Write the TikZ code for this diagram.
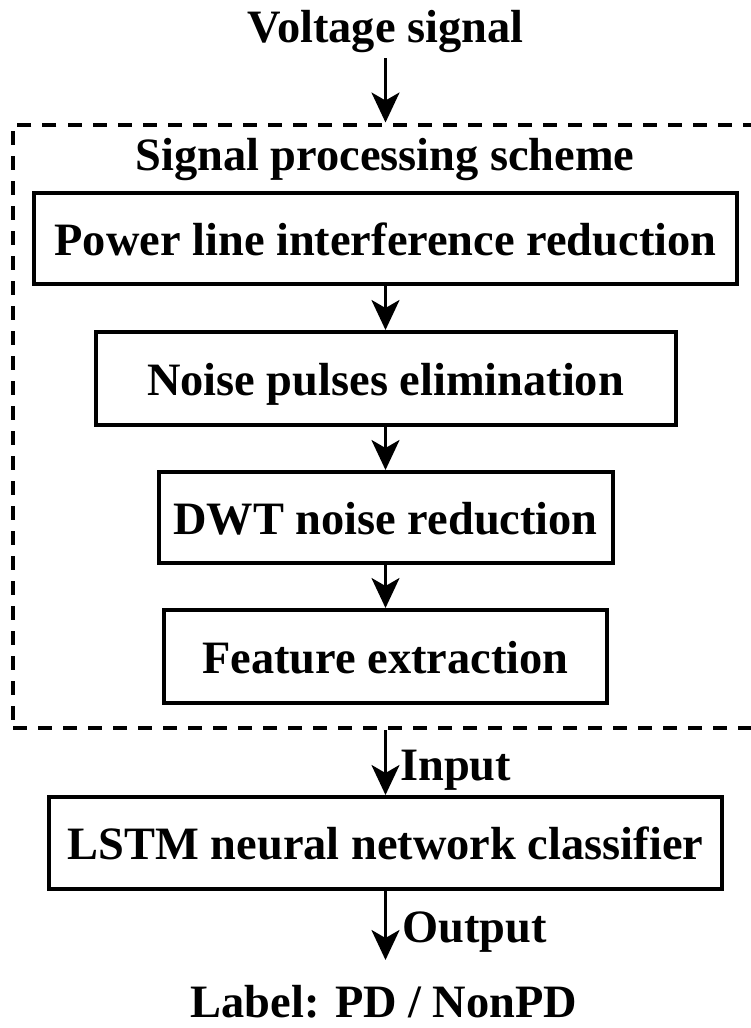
\documentclass[tikz,border=0pt]{standalone}
\usepackage{fontspec}
\setmainfont{Liberation Serif}
\usetikzlibrary{arrows.meta}
\begin{document}
\begin{tikzpicture}[x=1pt,y=-1pt,
  every node/.style={font=\bfseries\fontsize{46.4}{51}\selectfont, inner sep=0pt},
  procbox/.style={draw, line width=4pt, text height=45pt, text depth=12pt},
  groupframe/.style={draw, line width=4pt, dash pattern=on 14pt off 11pt},
  flow/.style={line width=3pt, -{Stealth[length=30pt,width=28pt,inset=8pt]}}]

% page and visible area
\fill[white] (0,0) rectangle (751,1028);
\clip (0,0) rectangle (751,1028);

% input signal
\node[anchor=base] (volt) at (385.5,42) {Voltage signal};

% dashed group holding the processing chain
\node[groupframe, minimum width=745pt, minimum height=603.5pt] (scheme) at (385.5,426.25) {};
\node[anchor=base] (title) at (385,170) {Signal processing scheme};

% processing steps
\node[procbox, minimum width=703pt, minimum height=91pt] (plir) at (385.5,238.5) {Power line interference reduction};
\node[procbox, minimum width=580pt, minimum height=93pt] (npe)  at (385.5,378.5) {Noise pulses elimination};
\node[procbox, minimum width=454pt, minimum height=91pt] (dwt)  at (385.5,517.5) {DWT noise reduction};
\node[procbox, minimum width=443pt, minimum height=93pt] (feat) at (385.5,656.5) {Feature extraction};

% classifier and result
\node[procbox, minimum width=673pt, minimum height=92pt] (lstm) at (385.5,843) {LSTM neural network classifier};
\node[anchor=base west] (inlab)  at (400,780) {Input};
\node[anchor=base west] (outlab) at (402,942) {Output};
\node[anchor=base] (result) at (384,1017) {Label: PD / NonPD};
\coordinate (outend) at (385.5,960);

% connectors
\draw[flow] ([yshift=-16pt]volt.base) -- (scheme.north);
\draw[flow] (plir.south) -- (npe.north);
\draw[flow] (npe.south)  -- (dwt.north);
\draw[flow] (dwt.south)  -- (feat.north);
\draw[flow] (scheme.south) -- (lstm.north);
\draw[flow] (lstm.south) -- (outend);
\end{tikzpicture}
\end{document}
